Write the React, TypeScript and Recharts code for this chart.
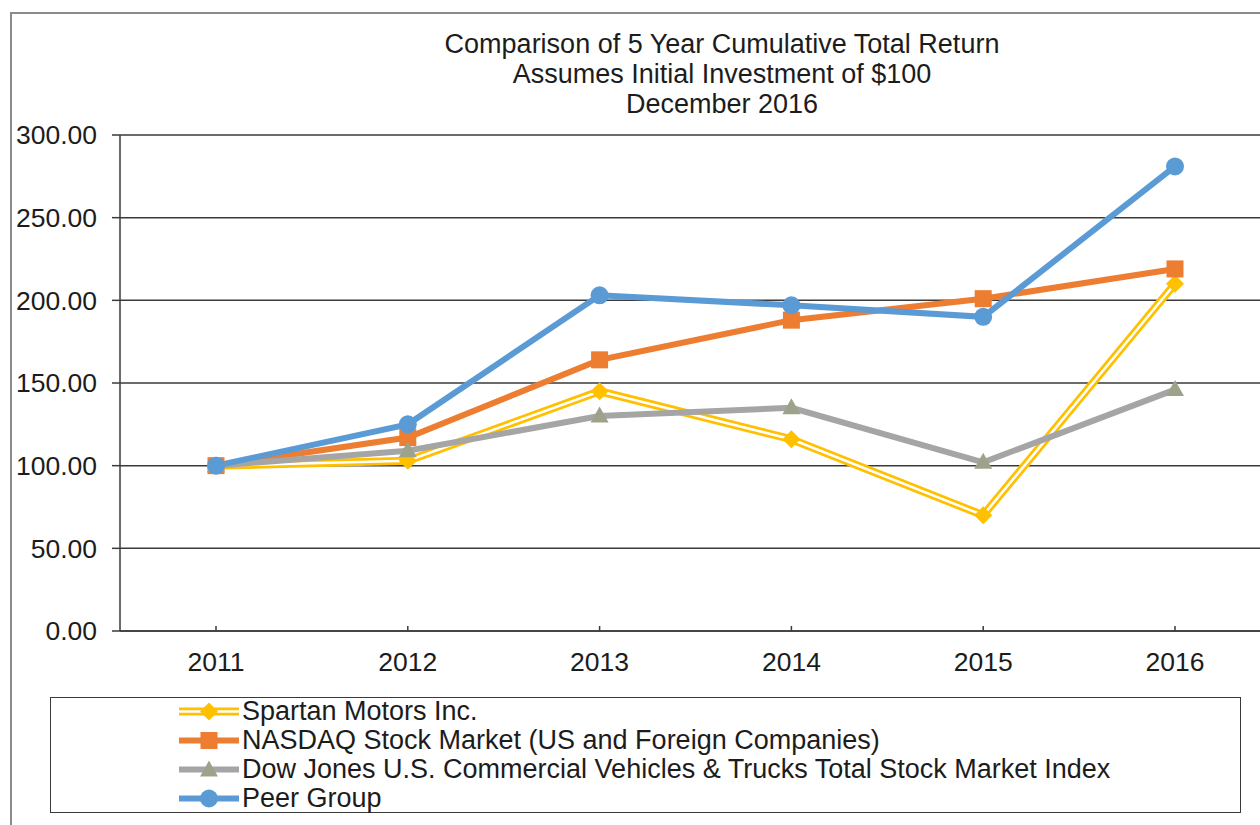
import React from 'react';
import { LineChart, Line, XAxis, YAxis, CartesianGrid, Legend } from 'recharts';

const categories = ['2011', '2012', '2013', '2014', '2015', '2016'];
const spartan = [100, 103, 145, 116, 70, 210];
const nasdaq = [100, 117, 164, 188, 201, 219];
const dowJones = [100, 109, 130, 135, 102, 146];
const peerGroup = [100, 125, 203, 197, 190, 281];
const yTicks = [0, 50, 100, 150, 200, 250, 300];
const seriesNames = [
  'Spartan Motors Inc.',
  'NASDAQ Stock Market (US and Foreign Companies)',
  'Dow Jones U.S. Commercial Vehicles & Trucks Total Stock Market Index',
  'Peer Group',
];
const titleLines = [
  'Comparison of 5 Year Cumulative Total Return',
  'Assumes Initial Investment of $100',
  'December 2016',
];

const YELLOW = '#FFC000';
const ORANGE = '#ED7D31';
const GRAY = '#A5A5A5';
const TRI = '#9DA38A';
const BLUE = '#5B9BD5';
const AXIS = '#3a3a3a';
const TEXT = '#1c1c1c';
const FONT = '"Liberation Sans", Arial, sans-serif';

const data = categories.map((c, i) => ({
  year: c,
  spartan: spartan[i],
  nasdaq: nasdaq[i],
  dow: dowJones[i],
  peer: peerGroup[i],
}));

const diamond = (cx: number, cy: number, k?: any) => (
  <path key={k} d={`M${cx},${cy - 9} L${cx + 9},${cy} L${cx},${cy + 9} L${cx - 9},${cy} Z`} fill={YELLOW} />
);
const square = (cx: number, cy: number, k?: any) => (
  <rect key={k} x={cx - 8.5} y={cy - 8.5} width={17} height={17} fill={ORANGE} />
);
const triangle = (cx: number, cy: number, k?: any) => (
  <path key={k} d={`M${cx},${cy - 9.5} L${cx + 9},${cy + 6.5} L${cx - 9},${cy + 6.5} Z`} fill={TRI} />
);
const circle = (cx: number, cy: number, k?: any) => (
  <circle key={k} cx={cx} cy={cy} r={9} fill={BLUE} />
);

const mk = (fn: any) => (p: any) => fn(p.cx, p.cy, `${p.dataKey}-${p.index}`);

const XTick = (props: any) => {
  const { x, y, payload } = props;
  return (
    <g>
      <line x1={x} x2={x} y1={y - 5} y2={y} stroke={AXIS} strokeWidth={1.5} />
      <text x={x} y={y + 40} textAnchor="middle" fontSize={26.5} fontFamily={FONT} fill={TEXT}>
        {payload.value}
      </text>
    </g>
  );
};

const legendIcons = [
  (
    <svg width={60} height={29}>
      <line x1={0} x2={60} y1={14.5} y2={14.5} stroke={YELLOW} strokeWidth={8} />
      <line x1={0} x2={60} y1={14.5} y2={14.5} stroke="#fff" strokeWidth={2.5} />
      {diamond(30, 14.5)}
    </svg>
  ),
  (
    <svg width={60} height={29}>
      <line x1={0} x2={60} y1={14.5} y2={14.5} stroke={ORANGE} strokeWidth={6} />
      {square(30, 14.5)}
    </svg>
  ),
  (
    <svg width={60} height={29}>
      <line x1={0} x2={60} y1={14.5} y2={14.5} stroke={GRAY} strokeWidth={6} />
      {triangle(30, 15)}
    </svg>
  ),
  (
    <svg width={60} height={29}>
      <line x1={0} x2={60} y1={14.5} y2={14.5} stroke={BLUE} strokeWidth={6} />
      {circle(30, 14.5)}
    </svg>
  ),
];

const LegendBox = () => (
  <div
    style={{
      width: 1191,
      height: 116,
      boxSizing: 'border-box',
      border: `1.5px solid ${AXIS}`,
      position: 'relative',
      background: '#fff',
    }}
  >
    {seriesNames.map((name, i) => (
      <div
        key={name}
        style={{
          position: 'absolute',
          left: 128,
          top: -1.5 + i * 29,
          height: 29,
          display: 'flex',
          alignItems: 'center',
          whiteSpace: 'nowrap',
        }}
      >
        {legendIcons[i]}
        <span style={{ marginLeft: 3, fontSize: 27, lineHeight: '29px', fontFamily: FONT, color: TEXT }}>
          {name}
        </span>
      </div>
    ))}
  </div>
);

export default function App() {
  return (
    <div
      style={{
        position: 'fixed',
        left: 0,
        top: 0,
        width: 1260,
        height: 825,
        overflow: 'hidden',
        background: '#fff',
        fontFamily: FONT,
      }}
    >
      <div
        style={{
          position: 'absolute',
          left: 10,
          top: 12,
          width: 1300,
          height: 900,
          border: '2px solid #8a8a8a',
        }}
      />
      <div
        style={{
          position: 'absolute',
          left: 222,
          top: 29,
          width: 1000,
          textAlign: 'center',
          fontSize: 27,
          lineHeight: '30px',
          color: TEXT,
          fontFamily: FONT,
        }}
      >
        {titleLines.map((t) => (
          <div key={t}>{t}</div>
        ))}
      </div>
      <div style={{ position: 'absolute', left: 0, top: 0 }}>
        <LineChart width={1320} height={825} data={data} margin={{ top: 135, right: 49, bottom: 154, left: 20 }}>
          <CartesianGrid vertical={false} stroke={AXIS} strokeWidth={1.5} />
          <XAxis
            dataKey="year"
            height={40}
            tickSize={0}
            tickMargin={0}
            tick={<XTick />}
            padding={{ left: 96, right: 96 }}
            axisLine={{ stroke: AXIS, strokeWidth: 1.5 }}
            tickLine={false}
            interval={0}
          />
          <YAxis
            width={100}
            domain={[0, 300]}
            ticks={yTicks}
            tickSize={8}
            tickMargin={15}
            tickFormatter={(v: number) => v.toFixed(2)}
            tick={{ fontSize: 26.5, fill: TEXT, fontFamily: FONT }}
            axisLine={{ stroke: AXIS, strokeWidth: 1.5 }}
            tickLine={{ stroke: AXIS, strokeWidth: 1.5 }}
          />
          <Legend
            layout="vertical"
            align="center"
            verticalAlign="middle"
            wrapperStyle={{ left: 50, top: 697, width: 1191, height: 116 }}
            content={() => <LegendBox />}
          />
          <Line
            type="linear"
            dataKey="spartan"
            name={seriesNames[0]}
            stroke={YELLOW}
            strokeWidth={8}
            dot={false}
            activeDot={false}
            isAnimationActive={false}
          />
          <Line
            type="linear"
            dataKey="spartan"
            name="spartan-inner"
            legendType="none"
            stroke="#ffffff"
            strokeWidth={2.5}
            dot={mk(diamond)}
            activeDot={false}
            isAnimationActive={false}
          />
          <Line
            type="linear"
            dataKey="nasdaq"
            name={seriesNames[1]}
            stroke={ORANGE}
            strokeWidth={6}
            dot={mk(square)}
            activeDot={false}
            isAnimationActive={false}
          />
          <Line
            type="linear"
            dataKey="dow"
            name={seriesNames[2]}
            stroke={GRAY}
            strokeWidth={6}
            dot={mk(triangle)}
            activeDot={false}
            isAnimationActive={false}
          />
          <Line
            type="linear"
            dataKey="peer"
            name={seriesNames[3]}
            stroke={BLUE}
            strokeWidth={6}
            dot={mk(circle)}
            activeDot={false}
            isAnimationActive={false}
          />
        </LineChart>
      </div>
    </div>
  );
}
